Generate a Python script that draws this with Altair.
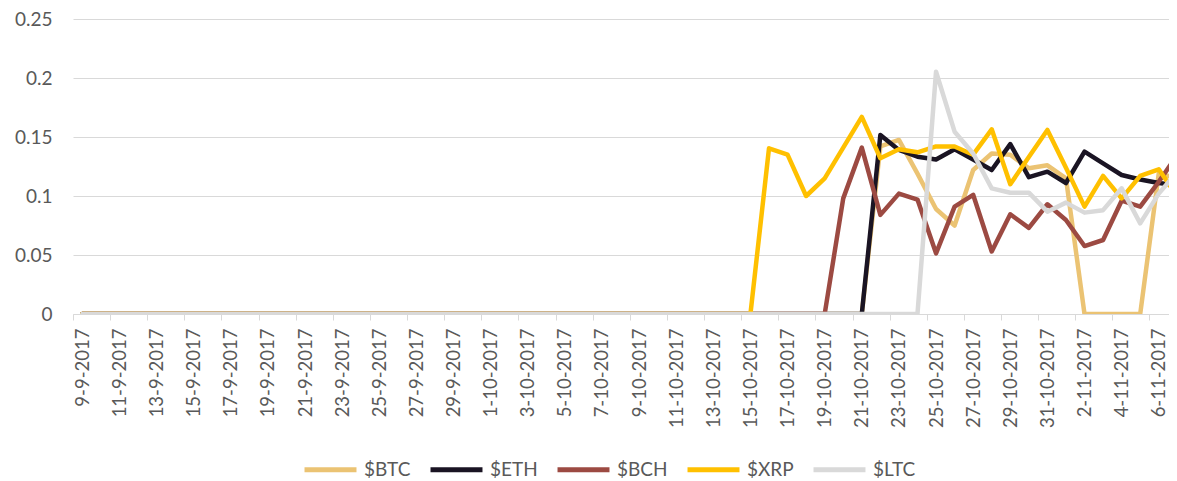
import json
import altair as alt
import pandas as pd

# Category axis: daily dates
dates = pd.date_range("2017-09-09", periods=60)
date_labels = [f"{d.day}-{d.month}-{d.year}" for d in dates]

series = ["$BTC", "$ETH", "$BCH", "$XRP", "$LTC"]
colors = ["#EBC373", "#1A1423", "#9C4A42", "#FFC000", "#D9D9D9"]

btc = [0.0] * 43 + [0.142, 0.1475, 0.119, 0.089, 0.075, 0.122, 0.136, 0.135,
                    0.1235, 0.126, 0.115, 0.0, 0.0, 0.0, 0.0, 0.119, 0.115]
eth = [0.0] * 43 + [0.1517, 0.139, 0.1333, 0.131, 0.1396, 0.131, 0.122, 0.144,
                    0.116, 0.1206, 0.111, 0.1376, 0.1277, 0.1178, 0.114, 0.111, 0.109]
bch = [0.0] * 41 + [0.098, 0.141, 0.084, 0.102, 0.097, 0.0514, 0.091, 0.101, 0.053,
                    0.0845, 0.073, 0.093, 0.0797, 0.0576, 0.0627, 0.096, 0.091,
                    0.112, 0.1347]
xrp = [0.0] * 37 + [0.1404, 0.135, 0.100, 0.115, 0.141, 0.167, 0.132, 0.1396, 0.137,
                    0.142, 0.142, 0.135, 0.1565, 0.110, 0.133, 0.156, 0.124, 0.091,
                    0.117, 0.098, 0.117, 0.1226, 0.0995]
ltc = [0.0] * 46 + [0.2053, 0.1545, 0.136, 0.1065, 0.1028, 0.1028, 0.0867, 0.0944,
                    0.0859, 0.088, 0.1065, 0.0768, 0.102, 0.1206]

y_ticks = [0, 0.05, 0.1, 0.15, 0.2, 0.25]

rows = []
for name, vals in zip(series, [btc, eth, bch, xrp, ltc]):
    for i, v in enumerate(vals):
        rows.append({"i": i, "v": v, "s": name})
df = pd.DataFrame(rows)

FONT = "Lato"
GRAY = "#D9D9D9"
TXT = "#595959"
PLOT_W = 1096
BAND = 18.56
half = BAND / 2

x = alt.X(
    "i:Q",
    scale=alt.Scale(domain=[-0.5, -0.5 + PLOT_W / BAND], nice=False, zero=False),
    axis=alt.Axis(
        values=list(range(0, 60, 2)),
        labelExpr=f"{json.dumps(date_labels)}[datum.value]",
        labelAngle=-90,
        labelFlush=False,
        labelOverlap=False,
        labelBound=False,
        tickOffset=-half,
        labelOffset=half,
        tickSize=6,
        tickColor=GRAY,
        tickWidth=1,
        domainColor=GRAY,
        domainWidth=1,
        grid=False,
        title=None,
        labelPadding=8,
        labelFontSize=18.5,
        labelColor=TXT,
        labelFont=FONT,
    ),
)
y = alt.Y(
    "v:Q",
    scale=alt.Scale(domain=[0, 0.25], nice=False),
    axis=alt.Axis(
        values=y_ticks,
        format=".2~f",
        domain=False,
        ticks=False,
        grid=True,
        gridColor=GRAY,
        gridWidth=1,
        labelPadding=21,
        title=None,
        labelFontSize=19,
        labelColor=TXT,
        labelFont=FONT,
    ),
)
color = alt.Color(
    "s:N",
    scale=alt.Scale(domain=series, range=colors),
    legend=alt.Legend(
        orient="none",
        legendX=229,
        legendY=422,
        direction="horizontal",
        columns=5,
        symbolType="stroke",
        symbolSize=2700,
        symbolStrokeWidth=5,
        labelFontSize=19,
        labelFont=FONT,
        labelColor=TXT,
        columnPadding=9,
        labelOffset=5,
        title=None,
        padding=0,
    ),
)

base = alt.Chart(df).encode(x=x, y=y, color=color)
layers = [
    base.transform_filter(alt.datum.s == name).mark_line(
        strokeWidth=4.5, strokeJoin="round", strokeCap="round", clip=True
    )
    for name in series
]

chart = (
    alt.layer(*layers)
    .properties(
        width=PLOT_W,
        height=295,
        autosize=alt.AutoSizeParams(type="none"),
        padding={"left": 65, "top": 11, "right": 0, "bottom": 166},
        background="white",
    )
    .configure_view(stroke=None)
)

chart.save("out.html", embed_options={"renderer": "svg", "actions": False})
